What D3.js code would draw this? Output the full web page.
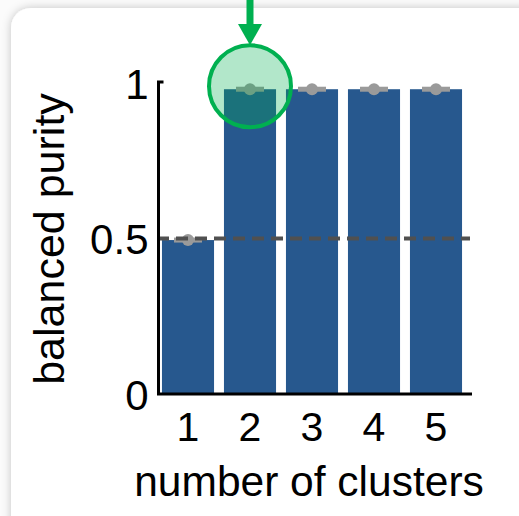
<!DOCTYPE html>
<html>
<head>
<meta charset="utf-8">
<script src="https://cdn.jsdelivr.net/npm/d3@7"></script>
<style>
  html, body { margin: 0; padding: 0; background: #ffffff; }
  svg { display: block; }
  text { font-family: "Liberation Sans", Arial, sans-serif; fill: #000; }
</style>
</head>
<body>
<svg id="chart" width="519" height="516"></svg>
<script>
// Balanced purity for each number of clusters
const clusters = ["1", "2", "3", "4", "5"];
const purity = [0.495, 0.98, 0.98, 0.98, 0.98];
const purityErr = [0.005, 0.005, 0.005, 0.005, 0.005];
const yTicks = [0, 0.5, 1];
const yTickLabels = ["0", "0.5", "1"];
const chance = 0.5;
const highlighted = "2";

const svg = d3.select("#chart");
const W = 519, H = 516;
const FONT = "Liberation Sans, Arial, sans-serif";

// card with soft shadow
const defs = svg.append("defs");
const f = defs.append("filter").attr("id", "shadow")
  .attr("x", "-10%").attr("y", "-10%").attr("width", "130%").attr("height", "130%");
f.append("feDropShadow").attr("dx", 0).attr("dy", 0).attr("stdDeviation", 5)
  .attr("flood-color", "#000").attr("flood-opacity", 0.22);

svg.append("rect").attr("width", W).attr("height", H).attr("fill", "#fbfbfb");
svg.append("rect")
  .attr("x", 11).attr("y", 8).attr("width", W + 40).attr("height", H + 40)
  .attr("rx", 20).attr("fill", "#fff").attr("filter", "url(#shadow)");

const x = d3.scaleBand().domain(clusters).range([157, 467])
  .paddingInner(0.16).paddingOuter(0.08);
const y = d3.scaleLinear().domain([0, 1]).range([394, 83]);

const barColor = "#27588e";

// bars
svg.append("g").selectAll("rect").data(clusters).join("rect")
  .attr("x", d => x(d))
  .attr("width", x.bandwidth())
  .attr("y", (d, i) => y(purity[i]))
  .attr("height", (d, i) => y(0) - y(purity[i]))
  .attr("fill", barColor);

// error bars with mean markers
const eb = svg.append("g");
clusters.forEach((c, i) => {
  const cx = x(c) + x.bandwidth() / 2;
  eb.append("line")
    .attr("x1", cx - 14).attr("x2", cx + 14)
    .attr("y1", y(purity[i])).attr("y2", y(purity[i]))
    .attr("stroke", "#9a9a9a").attr("stroke-width", 5);
  eb.append("line")
    .attr("x1", cx).attr("x2", cx)
    .attr("y1", y(purity[i] + purityErr[i])).attr("y2", y(purity[i] - purityErr[i]))
    .attr("stroke", "#9a9a9a").attr("stroke-width", 3);
  eb.append("circle")
    .attr("cx", cx).attr("cy", y(purity[i])).attr("r", 6)
    .attr("fill", "#9a9a9a");
});

// chance level
svg.append("line")
  .attr("x1", 157).attr("x2", 470)
  .attr("y1", y(chance)).attr("y2", y(chance))
  .attr("stroke", "#505050").attr("stroke-width", 4)
  .attr("stroke-dasharray", "12,7");

// axes
const axisY = d3.axisLeft(y).tickValues(yTicks)
  .tickFormat((d, i) => yTickLabels[i]).tickSize(0).tickPadding(10);
const gy = svg.append("g").attr("transform", "translate(158.5,0)").call(axisY);
gy.attr("font-size", 42).attr("font-family", FONT);
gy.select(".domain").remove();
gy.selectAll("text").attr("font-size", 42).attr("dy", "0.36em");
gy.append("path").attr("d", `M${5},${y(1) - 1}H0V${y(0) + 1}`)
  .attr("fill", "none").attr("stroke", "#000").attr("stroke-width", 3);

const axisX = d3.axisBottom(x).tickSize(0).tickPadding(18);
const gx = svg.append("g").attr("transform", `translate(0,${y(0)})`).call(axisX);
gx.attr("font-size", 41).attr("font-family", FONT);
gx.select(".domain").remove();
gx.selectAll("text").attr("font-size", 41);
gx.append("line").attr("x1", 157).attr("x2", 472).attr("y1", 0).attr("y2", 0)
  .attr("stroke", "#000").attr("stroke-width", 3);

// axis titles
svg.append("text")
  .attr("x", 309).attr("y", 496)
  .attr("text-anchor", "middle").attr("font-size", 42.5)
  .text("number of clusters");
svg.append("text")
  .attr("transform", `translate(64,239) rotate(-90)`)
  .attr("text-anchor", "middle").attr("font-size", 43)
  .text("balanced purity");

// highlight of the selected cluster count
const hx = x(highlighted) + x.bandwidth() / 2;
const hy = y(purity[clusters.indexOf(highlighted)]) - 3;
svg.append("circle")
  .attr("cx", hx).attr("cy", hy).attr("r", 41)
  .attr("fill", "rgba(0,176,80,0.3)")
  .attr("stroke", "#00b050").attr("stroke-width", 4);
svg.append("line")
  .attr("x1", hx).attr("x2", hx).attr("y1", -2).attr("y2", 26)
  .attr("stroke", "#00b050").attr("stroke-width", 7);
svg.append("path")
  .attr("d", `M${hx - 12},${24}L${hx + 12},${24}L${hx},${hy - 41}Z`)
  .attr("fill", "#00b050");
</script>
</body>
</html>
